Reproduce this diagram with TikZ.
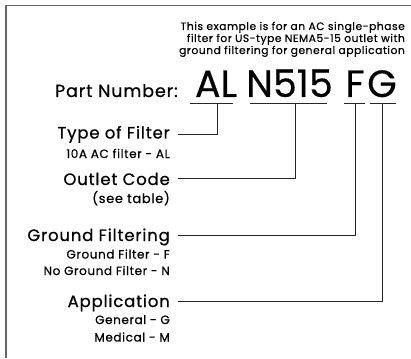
\documentclass[tikz,border=0pt]{standalone}
\usepackage{fontspec}
\setmainfont{Poppins}[FakeBold=0.6,LetterSpace=5]
\newfontfamily\bigfont{Poppins}[FakeBold=0.4]
\begin{document}
\begin{tikzpicture}[x=1pt,y=-1pt,
  lbl/.style={anchor=base east,inner sep=0pt,font=\fontsize{16.5}{19}\selectfont},
  sub/.style={anchor=base east,inner sep=0pt,font=\fontsize{12}{13}\selectfont},
  big/.style={anchor=base,inner sep=0pt,font=\bigfont\fontsize{38}{40}\selectfont},
  conn/.style={draw=black!85,line width=0.9pt},
  uline/.style={draw=black!85,line width=1pt}]
\useasboundingbox (0,0) rectangle (411,358);
\draw[draw=black!60,line width=1.2pt] (6,358) -- (6,5.5) -- (411,5.5);
\node[anchor=base east,inner sep=0pt,align=right,font=\fontsize{10.7}{12}\selectfont] (note) at (405,54)
 {This example is for an AC single-phase\\filter for US-type NEMA5-15 outlet with\\ground filtering for general application};
\node[anchor=base east,inner sep=0pt,font=\fontsize{17.5}{19}\selectfont] (pn) at (178,97) {Part Number:};
\node[big] (al) at (216,97) {AL};
\node[big] (n515) at (289.5,97) {N515};
\node[big] (f) at (355,97) {F};
\node[big] (g) at (382,97) {G};
\coordinate (uA1) at (190,103.5); \coordinate (uA2) at (233,103.5);
\coordinate (uB1) at (250,103.5); \coordinate (uB2) at (327,103.5);
\coordinate (uC1) at (344,103.5); \coordinate (uC2) at (365,103.5);
\coordinate (uD1) at (370,103.5); \coordinate (uD2) at (396,103.5);
\draw[uline] (uA1) -- (uA2);
\draw[uline] (uB1) -- (uB2);
\draw[uline] (uC1) -- (uC2);
\draw[uline] (uD1) -- (uD2);
\coordinate (tA) at (217,103.5);
\coordinate (tB) at (295.5,103.5);
\coordinate (tC) at (355,103.5);
\coordinate (tD) at (382.5,103.5);
\node[lbl] (type) at (170,138.5) {Type of Filter};
\node[sub] (typesub) at (170,158) {10A AC filter - AL};
\node[lbl] (outlet) at (170,185) {Outlet Code};
\node[sub,font=\fontsize{13}{14}\selectfont] (outletsub) at (170,203) {(see table)};
\node[lbl] (ground) at (170,241) {Ground Filtering};
\node[sub] (gsub1) at (170,258.5) {Ground Filter - F};
\node[sub] (gsub2) at (170,275) {No Ground Filter - N};
\node[lbl] (app) at (170,307) {Application};
\node[sub] (asub1) at (170,324) {General - G};
\node[sub] (asub2) at (170,341.5) {Medical - M};
\coordinate (cA) at (178,134);
\coordinate (cB) at (178,178.3);
\coordinate (cC) at (178,235);
\coordinate (cD) at (178,301);
\draw[conn] (cA) -| (tA);
\draw[conn] (cB) -| (tB);
\draw[conn] (cC) -| (tC);
\draw[conn] (cD) -| (tD);
\end{tikzpicture}
\end{document}
